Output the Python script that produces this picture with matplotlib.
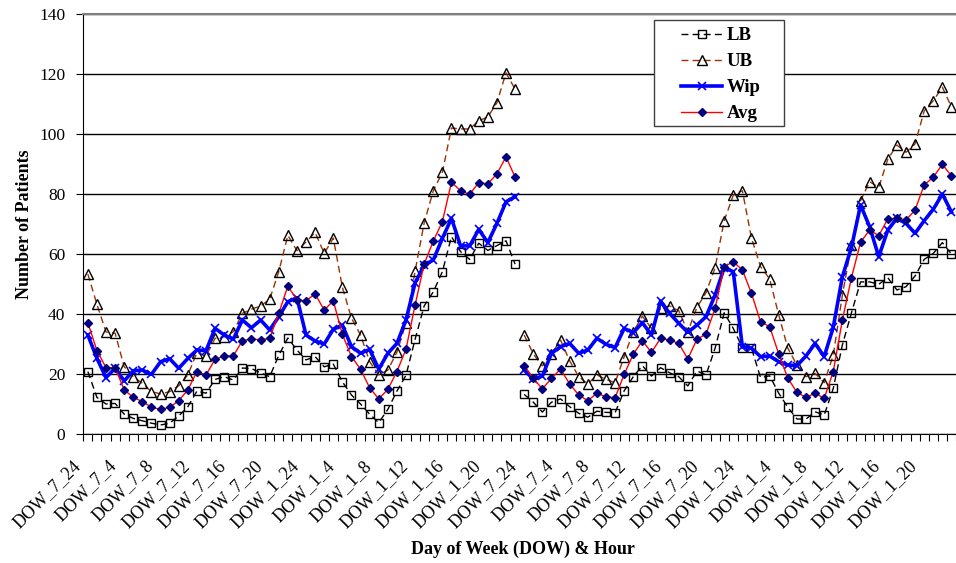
import numpy as np
import matplotlib
matplotlib.use("Agg")
import matplotlib.pyplot as plt
import matplotlib.transforms as mtransforms
from matplotlib.patches import Rectangle

plt.rcParams["font.family"] = ["Liberation Serif", "DejaVu Serif"]

# category names: two weeks of DOW_7 / DOW_1 hours, 24 first
hours = [24] + list(range(1, 24))
categories = [f"DOW_{d}_{h}" for _ in range(2) for d in (7, 1) for h in hours]

lb = [20.8, 12.2, 10.0, 10.2, 6.6, 5.2, 4.4, 3.6, 3.0, 3.6, 6.0, 9.1,
      14.3, 13.6, 18.2, 19.1, 18.0, 22.0, 21.8, 20.4, 19.1, 26.2, 32.0, 28.0,
      24.7, 25.8, 22.4, 23.3, 17.4, 13.0, 10.0, 6.6, 3.8, 8.2, 14.3, 19.6,
      31.6, 42.7, 47.4, 54.1, 65.8, 60.8, 58.2, 63.6, 61.2, 62.8, 64.4, 56.6,
      13.2, 10.6, 7.3, 10.6, 11.7, 9.1, 6.9, 5.6, 7.6, 7.2, 7.1, 14.4,
      19.1, 22.8, 19.3, 22.1, 20.4, 19.1, 16.0, 21.0, 19.7, 28.6, 40.4, 35.2,
      28.8, 28.6, 18.8, 19.4, 13.6, 8.9, 5.0, 5.0, 7.4, 6.3, 15.2, 29.7,
      40.4, 50.7, 50.7, 49.9, 52.1, 48.0, 49.1, 52.7, 58.2, 60.2, 63.8, 60.0]

ub = [53.3, 43.2, 34.0, 33.6, 22.4, 19.1, 16.9, 14.1, 13.4, 14.1, 16.1, 19.7,
      27.1, 26.0, 31.9, 32.4, 34.1, 40.2, 41.6, 42.7, 44.9, 54.1, 66.2, 61.1,
      64.0, 67.2, 60.2, 65.3, 48.9, 38.6, 33.0, 24.1, 19.7, 21.3, 27.3, 37.1,
      54.3, 70.4, 81.1, 87.2, 102.0, 101.7, 101.7, 104.4, 105.7, 110.4, 120.4, 114.9,
      33.0, 26.7, 22.7, 26.7, 31.3, 24.4, 19.1, 16.7, 19.7, 18.2, 17.1, 25.8,
      34.1, 39.3, 35.2, 41.9, 42.7, 41.1, 34.1, 42.2, 47.1, 55.4, 71.1, 79.6,
      81.1, 65.3, 55.8, 51.7, 39.7, 28.6, 23.0, 19.1, 20.2, 17.1, 26.3, 46.3,
      63.0, 77.7, 84.1, 82.2, 91.6, 96.3, 93.9, 96.7, 107.7, 111.1, 115.6, 109.0]

wip = [33.0, 25.2, 18.8, 21.9, 17.7, 21.1, 21.3, 19.9, 24.1, 25.1, 21.9, 25.2,
       28.0, 27.8, 35.2, 33.0, 31.6, 38.0, 35.4, 38.0, 34.7, 39.1, 44.1, 45.4,
       33.0, 31.0, 30.0, 34.9, 36.3, 29.1, 26.9, 28.2, 21.6, 26.9, 30.2, 38.0,
       50.4, 56.3, 58.0, 65.2, 71.9, 62.7, 62.7, 68.2, 63.8, 70.2, 77.4, 79.1,
       21.3, 18.3, 19.3, 26.9, 29.1, 30.2, 26.9, 28.0, 31.9, 29.9, 28.8, 35.2,
       33.8, 37.1, 33.0, 44.3, 40.2, 36.9, 33.9, 36.3, 39.1, 46.3, 55.4, 54.1,
       29.1, 28.6, 25.8, 26.0, 24.1, 23.0, 22.8, 26.0, 30.2, 25.8, 35.6, 52.4,
       62.2, 76.3, 69.1, 59.1, 68.0, 71.9, 70.2, 66.9, 71.1, 74.9, 80.0, 74.0]

avg = [37.1, 27.8, 22.1, 22.1, 14.7, 12.2, 10.8, 8.9, 8.2, 8.9, 11.1, 14.7,
       20.8, 19.7, 24.9, 26.0, 26.0, 31.1, 31.7, 31.4, 31.9, 40.2, 49.3, 44.7,
       44.4, 46.7, 41.3, 44.4, 33.2, 25.8, 21.6, 15.4, 11.7, 14.9, 20.8, 28.3,
       43.0, 56.7, 64.3, 70.8, 83.9, 81.1, 79.9, 83.8, 83.4, 86.7, 92.4, 85.6,
       22.8, 18.6, 15.0, 18.6, 21.6, 16.7, 13.0, 11.1, 13.6, 12.4, 12.1, 19.9,
       26.6, 31.1, 27.2, 31.9, 31.3, 30.2, 25.0, 31.6, 33.3, 41.9, 55.8, 57.4,
       54.7, 46.9, 37.4, 35.8, 26.7, 18.6, 13.9, 12.2, 13.6, 11.9, 20.8, 38.0,
       52.1, 63.9, 68.0, 66.1, 71.7, 71.9, 71.3, 74.7, 83.0, 85.6, 89.9, 86.0]

styles = {
    "LB": dict(color="black", ls=(0, (5, 3)), lw=1.0, marker="s", ms=6,
               mfc="none", mec="black", mew=1.0),
    "UB": dict(color="#993300", ls=(0, (5, 3)), lw=1.0, marker="^", ms=6.5,
               mfc="none", mec="black", mew=1.0),
    "Wip": dict(color="#0000FF", ls="-", lw=2.6, marker="x", ms=5.5,
                mec="#0000FF", mew=1.2),
    "Avg": dict(color="#FF0000", ls="-", lw=1.0, marker="D", ms=4.5,
                mfc="#000080", mec="#000080"),
}
series = {"LB": lb, "UB": ub, "Wip": wip, "Avg": avg}


def main():
    fig = plt.figure(figsize=(9.56, 5.63), dpi=100)
    ax = fig.add_axes([83.3 / 956, 1 - 434 / 563, 1 - 83.3 / 956, 420 / 563])

    x = np.arange(len(categories))
    half = len(categories) // 2
    for name, values in series.items():
        values = np.asarray(values)
        # the two weeks are not joined
        ax.plot(x[:half], values[:half], label=name, zorder=3, **styles[name])
        ax.plot(x[half:], values[half:], zorder=3, **styles[name])

    ax.set_xlim(-0.5, 94.72)
    ax.set_ylim(0, 140)
    ax.set_yticks(np.arange(0, 141, 20))
    ax.yaxis.grid(True, color="black", lw=1.0)
    ax.set_axisbelow(True)

    ax.spines["right"].set_visible(False)
    ax.spines["top"].set_color("#808080")
    ax.spines["top"].set_linewidth(1.5)

    # tick marks between categories, labels every 4th category
    ax.set_xticks(np.arange(-0.5, len(categories), 1.0))
    ax.tick_params(axis="x", which="major", direction="out", length=5,
                   labelbottom=False, color="black")
    lab_pos = x[::4]
    ax.set_xticks(lab_pos, [categories[i] for i in lab_pos], minor=True)
    ax.tick_params(axis="x", which="minor", length=0, pad=21, labelsize=13)
    shift = mtransforms.ScaledTranslation(-10 / 100, 0, fig.dpi_scale_trans)
    for lab in ax.get_xticklabels(minor=True):
        lab.set_rotation(45)
        lab.set_ha("right")
        lab.set_va("center")
        lab.set_rotation_mode("anchor")
        lab.set_transform(lab.get_transform() + shift)

    ax.tick_params(axis="y", direction="out", length=5, pad=8, labelsize=12.5)

    ax.set_ylabel("Number of Patients", fontsize=13, fontweight="bold")
    ax.yaxis.set_label_coords(-0.0576, 0.5)
    ax.text(0.504, -0.274, "Day of Week (DOW) & Hour", transform=ax.transAxes,
            ha="center", va="center", fontsize=13, fontweight="bold")

    # legend box drawn by hand so the padding can match
    box = Rectangle((654 / 956, 1 - 126 / 563), 130 / 956, 106 / 563,
                    transform=fig.transFigure, facecolor="white",
                    edgecolor="#404040", lw=1.0, zorder=4)
    ax.add_patch(box)
    box.set_clip_on(False)

    leg = ax.legend(loc="upper left", bbox_to_anchor=(681 / 956, 1 - 27 / 563),
                    bbox_transform=fig.transFigure, borderaxespad=0,
                    frameon=False, handlelength=2.2, handletextpad=0.25,
                    labelspacing=0.48, borderpad=0,
                    prop={"family": "Liberation Serif", "weight": "bold",
                          "size": 13.5})
    leg.set_zorder(5)

    fig.savefig("out.png", dpi=100)
    plt.close(fig)


if __name__ == "__main__":
    main()
